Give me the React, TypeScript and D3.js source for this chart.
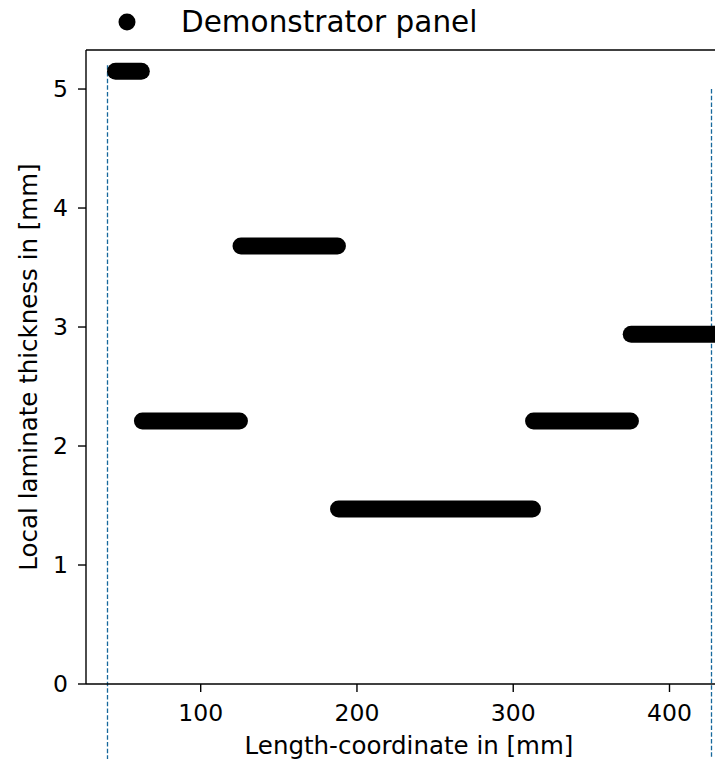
import React from "react";
import * as d3 from "d3";

const segStart = [45.5, 62.7, 125.8, 188.2, 313, 375.5];
const segEnd = [62, 124.8, 187.5, 312.3, 375, 437];
const thickness = [5.15, 2.21, 3.68, 1.47, 2.21, 2.94];
const xTicks = [100, 200, 300, 400];
const yTicks = [0, 1, 2, 3, 4, 5];
const boundaryX = [40.3, 427.2];
const boundaryTop = [5.2, 5.0];

const W = 715;
const H = 759;
const left = 86, right = 732, top = 50, bottom = 684;

export default function App() {
  const x = d3.scaleLinear().domain([26.6, 440]).range([left, right]);
  const y = d3.scaleLinear().domain([0, 5.328]).range([bottom, top]);
  const font = "DejaVu Sans, sans-serif";
  const snap = (v: number) => Math.floor(v) + 0.5;
  return (
    <svg width={W} height={H} style={{ position: "absolute", left: 0, top: 0, background: "#fff" }}>
      <rect x={0} y={0} width={W} height={H} fill="#fff" />
      {boundaryX.map((b, i) => (
        <line key={"b" + i} x1={snap(x(b))} x2={snap(x(b))} y1={y(boundaryTop[i])} y2={H}
          stroke="#16689c" strokeWidth={1.3} strokeDasharray="4.5,2.2" />
      ))}
      {thickness.map((t, i) => (
        <line key={"s" + i} x1={x(segStart[i])} x2={x(segEnd[i])} y1={y(t)} y2={y(t)}
          stroke="#000" strokeWidth={17} strokeLinecap="round" />
      ))}
      <line x1={left} x2={left} y1={top} y2={bottom} stroke="#000" strokeWidth={1.4} />
      <line x1={left} x2={right} y1={bottom} y2={bottom} stroke="#000" strokeWidth={1.4} />
      <line x1={left} x2={right} y1={top} y2={top} stroke="#000" strokeWidth={1.4} />
      <line x1={right} x2={right} y1={top} y2={bottom} stroke="#000" strokeWidth={1.4} />
      {xTicks.map((t) => (
        <g key={"x" + t}>
          <line x1={x(t)} x2={x(t)} y1={bottom} y2={bottom + 8} stroke="#000" strokeWidth={1.4} />
          <text x={x(t)} y={bottom + 37} textAnchor="middle" fontFamily={font} fontSize={23.5} fill="#000">{t}</text>
        </g>
      ))}
      {yTicks.map((t) => (
        <g key={"y" + t}>
          <line x1={left - 8} x2={left} y1={y(t)} y2={y(t)} stroke="#000" strokeWidth={1.4} />
          <text x={left - 18} y={y(t)} dy="0.36em" textAnchor="end" fontFamily={font} fontSize={23.5} fill="#000">{t}</text>
        </g>
      ))}
      <text x={409} y={754} textAnchor="middle" fontFamily={font} fontSize={24.5} fill="#000">Length-coordinate in [mm]</text>
      <text transform={`translate(37,${(top + bottom) / 2}) rotate(-90)`} textAnchor="middle" fontFamily={font} fontSize={24.5} fill="#000">Local laminate thickness in [mm]</text>
      <circle cx={127} cy={22} r={8.5} fill="#000" />
      <text x={181} y={32} fontFamily={font} fontSize={29.5} fill="#000">Demonstrator panel</text>
    </svg>
  );
}
